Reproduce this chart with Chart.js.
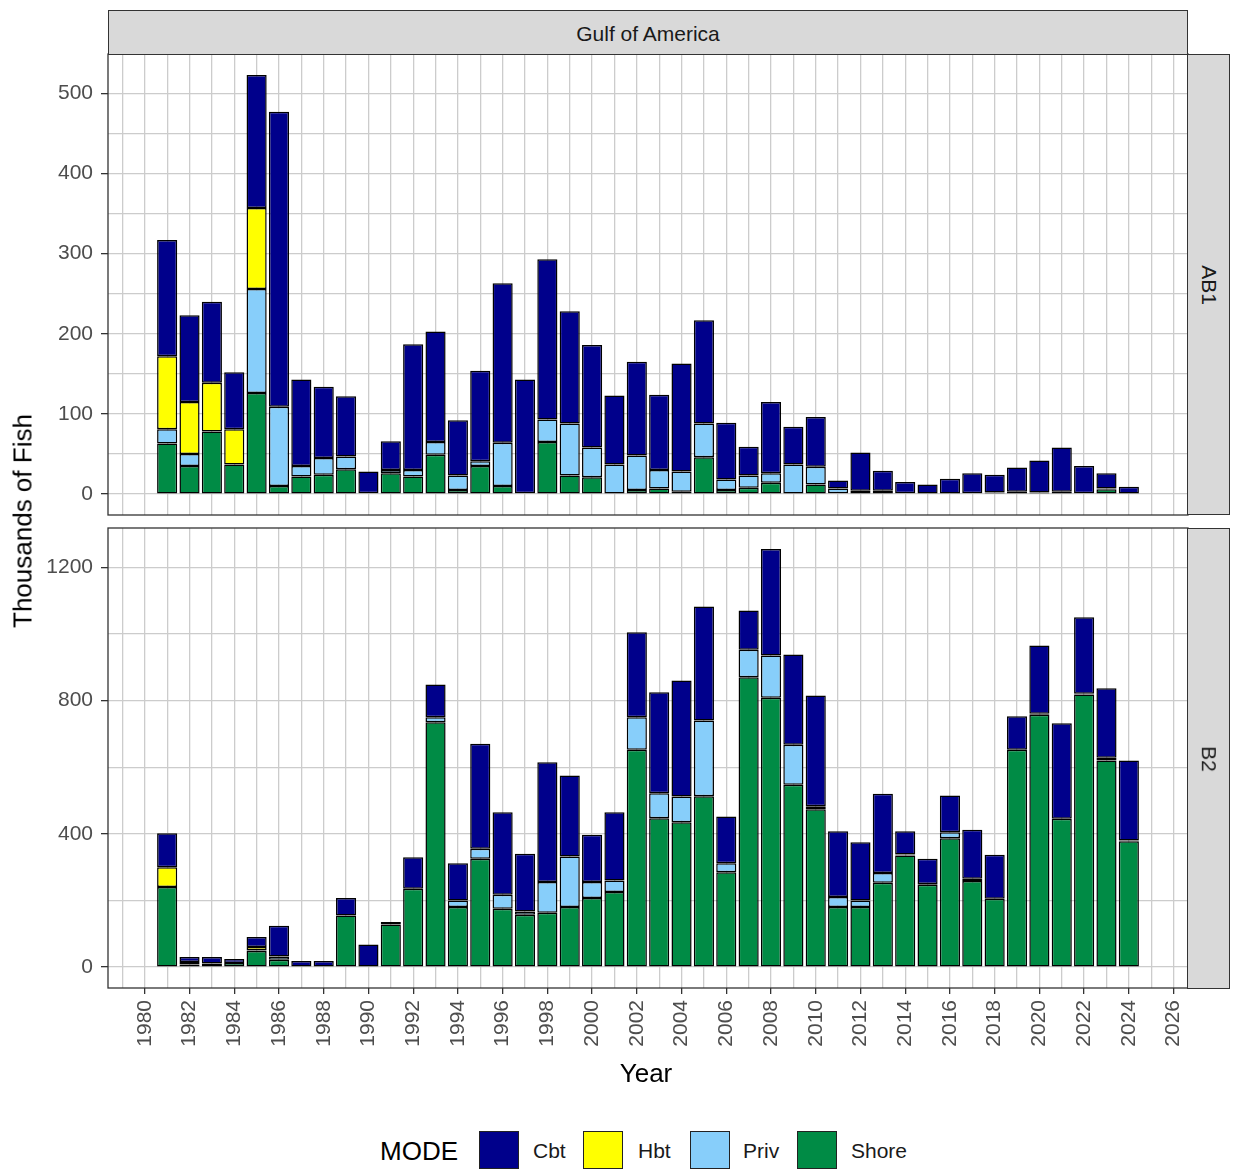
<!DOCTYPE html>
<html>
<head>
<meta charset="utf-8">
<script src="https://cdn.jsdelivr.net/npm/chart.js@4.4.1/dist/chart.umd.min.js"></script>
<style>
  body { margin: 0; background: #fff; font-family: "Liberation Sans", Arial, sans-serif; }
  #page { position: relative; width: 1233px; height: 1169px; overflow: hidden; }
  canvas { position: absolute; left: 0; }
  .strip { position: absolute; background: #d9d9d9; border: 1px solid #333; box-sizing: border-box;
           color: #1a1a1a; font-size: 21px; display: flex; align-items: center; justify-content: center; }
  .strip .v { transform: rotate(90deg); white-space: nowrap; }
  .title { position: absolute; color: #000; font-size: 26px; white-space: nowrap; transform: translate(-50%, -50%); }
  .leg { position: absolute; white-space: nowrap; }
  .key { position: absolute; width: 40px; height: 38px; box-sizing: border-box; border: 1px solid #222; }
</style>
</head>
<body>
<div id="page">
  <canvas id="ab1" width="1233" height="520" style="top:0"></canvas>
  <canvas id="b2" width="1233" height="580" style="top:520px"></canvas>

  <div class="strip" style="left:108px; top:10px; width:1080px; height:45px; padding-top:3px;">Gulf of America</div>
  <div class="strip" style="left:1187px; top:54px; width:43px; height:461px;"><span class="v">AB1</span></div>
  <div class="strip" style="left:1187px; top:528px; width:43px; height:461px;"><span class="v">B2</span></div>

  <div class="title" style="left:23px; top:521px; transform: translate(-50%, -50%) rotate(-90deg);">Thousands of Fish</div>
  <div class="title" style="left:646px; top:1073px;">Year</div>
  <div id="legend"></div>
</div>

<script>
// data, thousands of fish
const years = [1981, 1982, 1983, 1984, 1985, 1986, 1987, 1988, 1989, 1990,
               1991, 1992, 1993, 1994, 1995, 1996, 1997, 1998, 1999, 2000,
               2001, 2002, 2003, 2004, 2005, 2006, 2007, 2008, 2009, 2010,
               2011, 2012, 2013, 2014, 2015, 2016, 2017, 2018, 2019, 2020,
               2021, 2022, 2023, 2024];

const modes = ['Cbt', 'Hbt', 'Priv', 'Shore'];
const modeColors = { Cbt: '#00008b', Hbt: '#ffff00', Priv: '#87cefa', Shore: '#008b45' };

// AB1
const ab1Shore = [63, 35, 78, 37, 126, 10, 22, 24, 31, 1,
                  26, 22, 49, 5, 35, 10, 1, 65, 23, 21,
                  0, 5, 7, 3, 46, 5, 8, 14, 0, 12,
                  1, 0, 0, 0, 0, 0, 1, 2, 3, 2,
                  3, 1, 6, 0];
const ab1Priv  = [18, 15, 0, 0, 130, 99, 13, 21, 16, 0,
                  4, 8, 16, 18, 6, 54, 0, 28, 65, 37,
                  37, 43, 23, 25, 42, 13, 15, 12, 37, 22,
                  6, 4, 4, 1, 0, 0, 0, 0, 0, 0,
                  0, 0, 1, 0];
const ab1Hbt   = [91, 65, 61, 44, 101, 0, 0, 0, 0, 0,
                  0, 0, 0, 0, 0, 0, 0, 0, 0, 0,
                  0, 0, 0, 0, 0, 0, 0, 0, 0, 0,
                  0, 0, 0, 0, 0, 0, 0, 0, 0, 0,
                  0, 0, 0, 0];
const ab1Cbt   = [145, 108, 101, 71, 166, 368, 108, 89, 75, 27,
                  36, 157, 138, 69, 113, 199, 142, 200, 140, 128,
                  86, 117, 94, 135, 129, 71, 36, 89, 47, 62,
                  10, 48, 25, 14, 12, 19, 25, 22, 30, 40,
                  55, 34, 19, 9];

// B2
const b2Shore = [240, 8, 3, 12, 48, 22, 0, 0, 155, 0,
                 128, 235, 735, 180, 325, 175, 157, 163, 180, 207,
                 225, 652, 447, 435, 513, 285, 870, 808, 547, 474,
                 180, 180, 253, 335, 247, 387, 258, 205, 652, 757,
                 445, 818, 620, 378];
const b2Priv  = [0, 0, 0, 0, 2, 10, 0, 0, 0, 0,
                 0, 0, 15, 20, 30, 42, 10, 92, 152, 48,
                 35, 98, 75, 77, 227, 27, 82, 127, 120, 9,
                 30, 20, 29, 3, 2, 18, 7, 0, 0, 3,
                 0, 2, 8, 2];
const b2Hbt   = [60, 7, 8, 0, 10, 0, 0, 0, 0, 0,
                 0, 0, 0, 0, 0, 0, 0, 0, 0, 0,
                 0, 0, 0, 0, 0, 0, 0, 0, 0, 0,
                 0, 0, 0, 0, 0, 0, 0, 0, 0, 0,
                 0, 0, 0, 0];
const b2Cbt   = [102, 15, 19, 12, 30, 92, 18, 18, 52, 68,
                 7, 95, 98, 112, 315, 248, 173, 360, 243, 142,
                 205, 255, 303, 348, 342, 140, 118, 320, 271, 332,
                 198, 175, 238, 70, 76, 110, 147, 132, 101, 205,
                 287, 230, 209, 240];

// tick labels
const xTicks = [1980, 1982, 1984, 1986, 1988, 1990, 1992, 1994, 1996, 1998, 2000, 2002,
                2004, 2006, 2008, 2010, 2012, 2014, 2016, 2018, 2020, 2022, 2024, 2026];
const ab1Ticks = [0, 100, 200, 300, 400, 500];
const b2Ticks = [0, 400, 800, 1200];

const fontFamily = '"Liberation Sans", Arial, sans-serif';
const gridColor = '#cccccc';
const tickLine = '#333333';

// ggplot style 5% expansion
const xMin = years[0] - 0.45 - (years[years.length - 1] - years[0] + 0.9) * 0.05;
const xMax = years[years.length - 1] + 0.45 + (years[years.length - 1] - years[0] + 0.9) * 0.05;

// majors plus midpoints (minor grid) inside the range
function gridValues(majors, lo, hi) {
    const step = majors[1] - majors[0];
    const out = [];
    for (let v = majors[0] - step / 2; v <= majors[majors.length - 1] + step / 2; v += step / 2) {
        if (v >= lo && v <= hi) out.push(v);
    }
    return out;
}

const panelBorder = {
    id: 'panelBorder',
    afterDatasetsDraw(chart) {
        const a = chart.chartArea, ctx = chart.ctx;
        ctx.save();
        ctx.strokeStyle = tickLine;
        ctx.lineWidth = 1.3;
        ctx.strokeRect(a.left, a.top, a.right - a.left, a.bottom - a.top);
        ctx.restore();
    }
};

function makePanel(id, series, majors, showX, padTop) {
    const totals = years.map((y, i) => modes.reduce((s, m) => s + series[m][i], 0));
    const top = Math.max(...totals);
    const yMin = -top * 0.05, yMax = top * 1.05;
    const xGrid = gridValues(xTicks, xMin, xMax);
    const yGrid = gridValues(majors, yMin, yMax);

    // stacking goes bottom-up: Shore, Priv, Hbt, Cbt
    const order = ['Shore', 'Priv', 'Hbt', 'Cbt'];

    new Chart(document.getElementById(id), {
        type: 'bar',
        data: {
            datasets: order.map(m => ({
                label: m,
                data: years.map((yr, i) => ({ x: yr, y: series[m][i] })),
                backgroundColor: modeColors[m],
                borderColor: '#000',
                borderWidth: 1.5,
                borderSkipped: false,
                barPercentage: 0.9,
                categoryPercentage: 1.0
            }))
        },
        options: {
            responsive: false,
            animation: false,
            devicePixelRatio: 1,
            layout: { padding: { top: padTop, right: 45, bottom: showX ? 0 : 5, left: 0 } },
            plugins: { legend: { display: false }, tooltip: { enabled: false } },
            scales: {
                x: {
                    type: 'linear',
                    stacked: true,
                    min: xMin,
                    max: xMax,
                    bounds: 'data',
                    offset: false,
                    afterBuildTicks: s => { s.ticks = xGrid.map(v => ({ value: v })); },
                    afterFit: s => {
                        s.height = showX ? 112 : 0;
                        s.paddingLeft = 0; s.paddingRight = 0;
                    },
                    border: { display: false },
                    grid: {
                        offset: false,
                        color: gridColor,
                        lineWidth: 1.3,
                        drawTicks: showX,
                        tickLength: 6,
                        tickWidth: 1.3,
                        tickColor: c => (c.tick && xTicks.includes(c.tick.value)) ? tickLine : 'rgba(0,0,0,0)'
                    },
                    ticks: {
                        display: showX,
                        autoSkip: false,
                        minRotation: 90,
                        maxRotation: 90,
                        padding: 6,
                        color: '#4d4d4d',
                        font: { size: 21, family: fontFamily },
                        callback: v => xTicks.includes(v) ? String(v) : ''
                    }
                },
                y: {
                    stacked: true,
                    min: yMin,
                    max: yMax,
                    bounds: 'data',
                    afterBuildTicks: s => { s.ticks = yGrid.map(v => ({ value: v })); },
                    afterFit: s => {
                        s.width = 108;
                        s.paddingTop = 0; s.paddingBottom = 0;
                    },
                    border: { display: false },
                    grid: {
                        color: gridColor,
                        lineWidth: 1.3,
                        tickLength: 7,
                        tickWidth: 1.3,
                        tickColor: c => (c.tick && majors.includes(c.tick.value)) ? tickLine : 'rgba(0,0,0,0)'
                    },
                    ticks: {
                        padding: 8,
                        color: '#4d4d4d',
                        font: { size: 21, family: fontFamily },
                        callback: v => majors.includes(v) ? String(v) : ''
                    }
                }
            }
        },
        plugins: [panelBorder]
    });
}

makePanel('ab1', { Shore: ab1Shore, Priv: ab1Priv, Hbt: ab1Hbt, Cbt: ab1Cbt }, ab1Ticks, false, 54);
makePanel('b2', { Shore: b2Shore, Priv: b2Priv, Hbt: b2Hbt, Cbt: b2Cbt }, b2Ticks, true, 8);

// legend
const legend = document.getElementById('legend');
const keyLeft = [479, 583, 690, 797];
const labelLeft = [533, 638, 743, 851];
let html = '<div class="leg" style="left:380px; top:1136px; font-size:26px; color:#000;">MODE</div>';
modes.forEach((m, i) => {
    html += '<div class="key" style="left:' + keyLeft[i] + 'px; top:1131px; background:' + modeColors[m] + ';"></div>';
    html += '<div class="leg" style="left:' + labelLeft[i] + 'px; top:1139px; font-size:21px; color:#1a1a1a;">' + m + '</div>';
});
legend.innerHTML = html;
</script>
</body>
</html>
